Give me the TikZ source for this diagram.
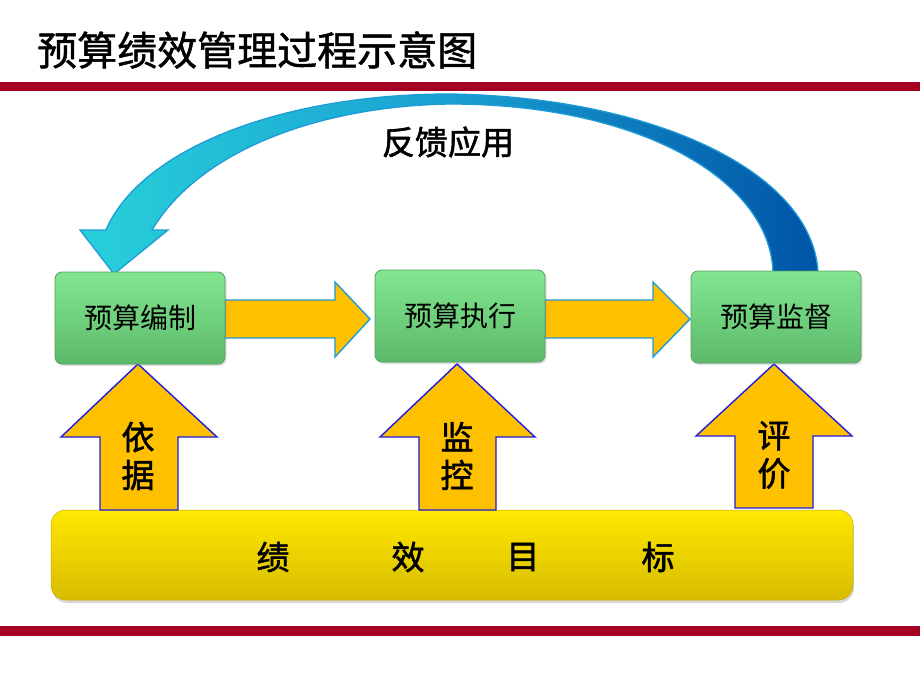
\documentclass[tikz,border=0pt]{standalone}
\usepackage{fontspec}
\newfontfamily\cjk{Noto Sans CJK SC}
\newfontfamily\cjkt[FakeBold=1.2]{Noto Sans CJK SC}
\newfontfamily\cjkb[FakeBold=1.6]{Noto Sans CJK SC}
\usetikzlibrary{shadows}
\definecolor{redline}{RGB}{165,0,33}
\definecolor{gtop}{RGB}{130,230,145}
\definecolor{gbot}{RGB}{92,186,106}
\definecolor{gedge}{RGB}{88,158,100}
\definecolor{ayel}{RGB}{255,192,0}
\definecolor{hedge}{RGB}{30,155,215}
\definecolor{vedge}{RGB}{30,30,225}
\definecolor{btop}{RGB}{255,232,0}
\definecolor{bbot}{RGB}{215,188,0}
\definecolor{cyanA}{RGB}{40,208,218}
\definecolor{cyanB}{RGB}{25,160,210}
\definecolor{blueA}{RGB}{0,84,166}
\tikzset{
  stepbox/.style={draw=gedge, line width=0.8pt, rounded corners=7pt, top color=gtop, bottom color=gbot,
    minimum width=170pt, minimum height=92pt, inner sep=0pt, font=\cjk\fontsize{28}{30}\selectfont,
    drop shadow={opacity=0.25, shadow xshift=1.5pt, shadow yshift=-2pt}},
  harrow/.style={draw=hedge, line width=1.4pt, fill=ayel, line join=miter},
  varrow/.style={draw=vedge, line width=1.4pt, fill=ayel, line join=miter},
  bigtxt/.style={font=\cjkb\fontsize{33}{38}\selectfont, inner sep=0pt, align=center},
}
\begin{document}
\begin{tikzpicture}[x=1pt,y=-1pt]
\useasboundingbox (0,0) rectangle (920,690);
\fill[white] (0,0) rectangle (920,690);
% title and rules
\node[anchor=west, inner sep=0pt, font=\cjkt\fontsize{40}{46}\selectfont] (title) at (37,50) {预算绩效管理过程示意图};
\fill[redline] (0,82) rectangle (920,91);
\fill[redline] (0,626) rectangle (920,636);
% curved feedback arrow
\path[draw=hedge, line width=1.3pt, left color=cyanA, right color=blueA, middle color=cyanB, line join=miter]
  (818,272) .. controls (812,170) and (650,97) .. (450,94)
  .. controls (280,94) and (140,150) .. (106,230)
  -- (80,230) -- (114,274) -- (168,230) -- (152,230)
  .. controls (200,150) and (320,106) .. (450,104)
  .. controls (640,104) and (770,180) .. (773,272) -- cycle;
\node[bigtxt] (fb) at (448,142) {反馈应用};
% goal bar
\node[draw=bbot!90!black, line width=0.5pt, rounded corners=15pt, top color=btop, bottom color=bbot,
  minimum width=802pt, minimum height=90pt, inner sep=0pt,
  drop shadow={opacity=0.3, shadow xshift=1pt, shadow yshift=-3pt}] (goal) at (452,555) {};
\node[bigtxt] (g1) at (273,557) {绩};
\node[bigtxt] (g2) at (408,557) {效};
\node[bigtxt] (g3) at (523,557) {目};
\node[bigtxt] (g4) at (658,557) {标};
% vertical arrows
\draw[varrow] (100,510) -- (100,437) -- (61,437) -- (138,364) -- (217,437) -- (178,437) -- (178,510) -- cycle;
\draw[varrow] (419,510) -- (419,437) -- (380,437) -- (457,364) -- (535,437) -- (496,437) -- (496,510) -- cycle;
\draw[varrow] (735,508) -- (735,436) -- (696,436) -- (774,364) -- (852,436) -- (813,436) -- (813,508) -- cycle;
\node[bigtxt] (v1) at (138,456) {依\\据};
\node[bigtxt] (v2) at (457,456) {监\\控};
\node[bigtxt] (v3) at (774,455) {评\\价};
% horizontal arrows
\draw[harrow] (225,300) -- (335,300) -- (335,282) -- (370,319) -- (335,357) -- (335,338) -- (225,338) -- cycle;
\draw[harrow] (545,300) -- (653,300) -- (653,282) -- (690,319) -- (653,357) -- (653,338) -- (545,338) -- cycle;
% boxes
\node[stepbox] (b1) at (140,318) {预算编制};
\node[stepbox] (b2) at (460,316) {预算执行};
\node[stepbox] (b3) at (776,317) {预算监督};
\end{tikzpicture}
\end{document}
